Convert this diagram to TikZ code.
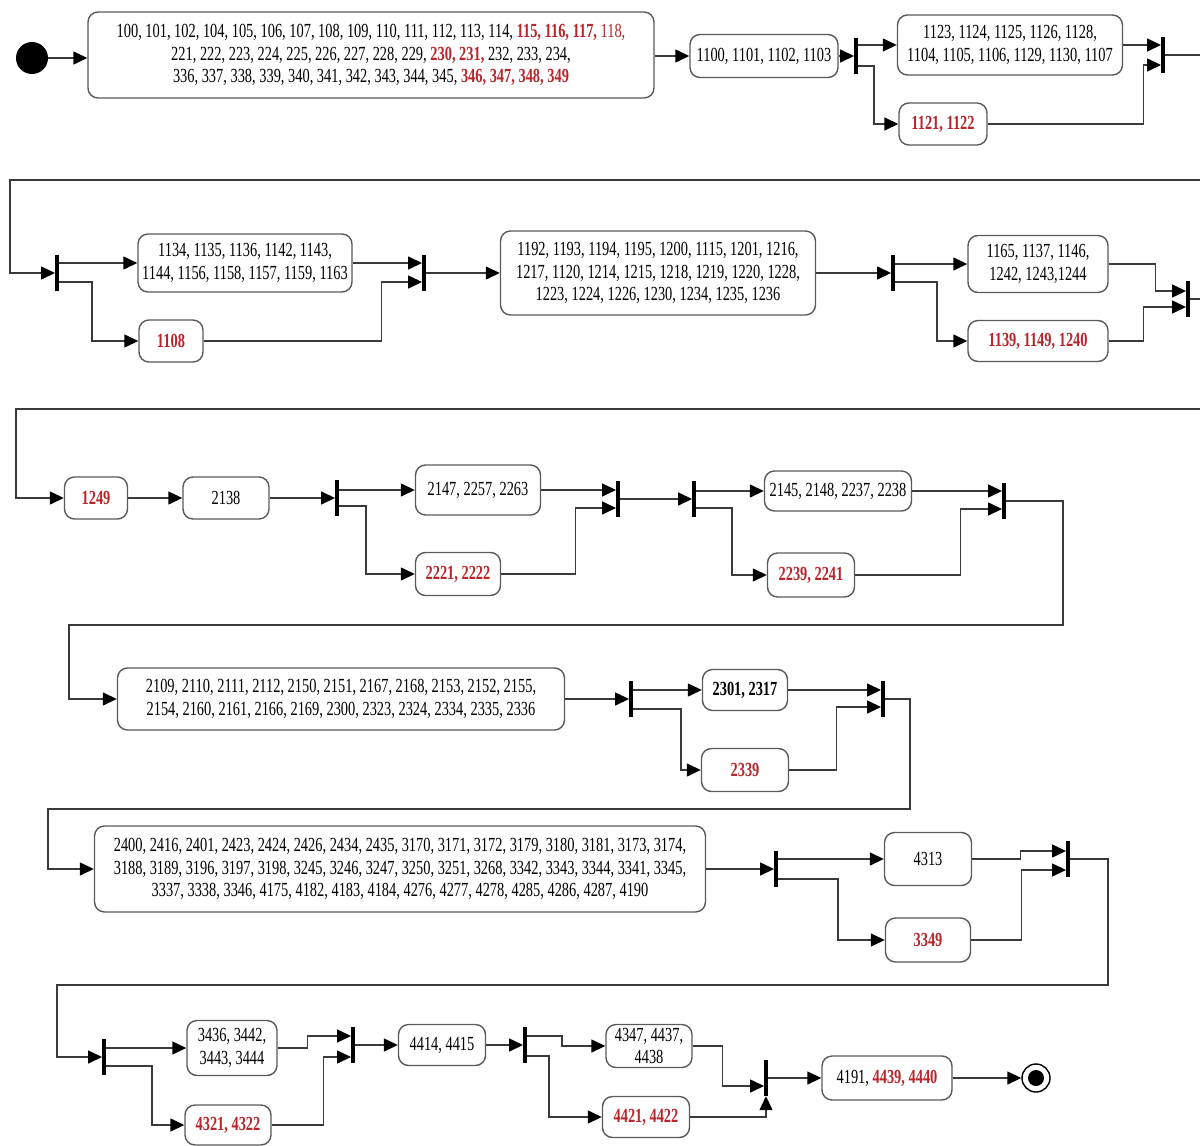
\documentclass[tikz,border=0pt]{standalone}
\usepackage{fontspec}
\setmainfont[FakeStretch=0.72]{Liberation Serif}
\usepackage{tikz}
\usepackage{xcolor}
\usetikzlibrary{arrows.meta,positioning,calc}

\definecolor{redtxt}{HTML}{B8262B}
\definecolor{boxgray}{HTML}{5A5A5A}
\definecolor{linegray}{HTML}{3A3A3A}
\newcommand{\hl}[1]{\textcolor{redtxt}{\textbf{#1}}}

\tikzset{
  box/.style={draw=boxgray, rounded corners=10pt, line width=1.4pt, fill=white, align=center, inner sep=0pt},
  bar/.style={fill=black, inner sep=0pt, minimum width=3.5pt, minimum height=36pt},
  arr/.style={draw=linegray, line width=1.4pt, -{Triangle[length=14pt,width=13pt,color=black]}},
  ln/.style={draw=linegray, line width=1.4pt}
}

\begin{document}
\begin{tikzpicture}[x=1pt, y=-1pt, font=\fontsize{20}{22.5}\selectfont]
    \useasboundingbox (0,0) rectangle (1200,1146);
    % fork and join bars
    \foreach \name/\x/\y in {f1/856/56, j1/1163/55, f2/57/273, j2/424/273, f3/893/273, j3/1188/299,
                            f4/337/498, j4/618/499, f5/694/499, j5/1004/501, f6/631/699, j6/883/699,
                            f7/776/869, j7/1068/859, f8/104/1057, j8/353/1045, f9/525/1045, j9/766/1078}
        \node[bar] (\name) at (\x,\y) {};

    % row 1
    \node[circle, fill=black, minimum size=32pt, inner sep=0pt] (s) at (32,58) {};
    \node[box, minimum width=566pt, minimum height=86pt] (A) at (371,55)
        {100, 101, 102, 104, 105, 106, 107, 108, 109, 110, 111, 112, 113, 114, \hl{115, 116, 117,} \textcolor{redtxt}{118,}\\
         221, 222, 223, 224, 225, 226, 227, 228, 229, \hl{230, 231,} 232, 233, 234,\\
         336, 337, 338, 339, 340, 341, 342, 343, 344, 345, \hl{346, 347, 348, 349}};
    \node[box, minimum width=148pt, minimum height=43pt] (B) at (764,56) {1100, 1101, 1102, 1103};
    \node[box, minimum width=225pt, minimum height=60pt] (C) at (1010,45)
        {1123, 1124, 1125, 1126, 1128,\\ 1104, 1105, 1106, 1129, 1130, 1107};
    \node[box, minimum width=88pt, minimum height=42pt] (D) at (943,124) {\hl{1121, 1122}};
    \draw[arr] (s) -- (s -| A.west);
    \draw[arr] (A.east |- B) -- (B);
    \draw[arr] (B) -- (f1);
    \draw[arr] (f1.east |- C) -- (C);
    \draw[arr] ([yshift=-10pt]f1.east) -- ++(16,0) |- (D);
    \draw[arr] (C) -- (C -| j1.west);
    \draw[arr] (D.east) -- ++(156,0) |- ([yshift=-10pt]j1.west);
    \coordinate (e1) at (1200,55);
    \draw[ln] (j1) -- (e1);

    % row 2
    \coordinate (w1) at (1200,180);
    \coordinate (w1a) at (10,180);
    \draw[arr] (w1) -- (w1a) |- (f2);
    \node[box, minimum width=214pt, minimum height=58pt] (E) at (245,263)
        {1134, 1135, 1136, 1142, 1143,\\ 1144, 1156, 1158, 1157, 1159, 1163};
    \node[box, minimum width=64pt, minimum height=42pt] (F) at (171,341) {\hl{1108}};
    \node[box, minimum width=315pt, minimum height=84pt] (G) at (658,273)
        {1192, 1193, 1194, 1195, 1200, 1115, 1201, 1216,\\
         1217, 1120, 1214, 1215, 1218, 1219, 1220, 1228,\\
         1223, 1224, 1226, 1230, 1234, 1235, 1236};
    \node[box, minimum width=140pt, minimum height=57pt] (H) at (1038,264)
        {1165, 1137, 1146,\\ 1242, 1243,1244};
    \node[box, minimum width=140pt, minimum height=41pt] (I) at (1038,341) {\hl{1139, 1149, 1240}};
    \draw[arr] (f2.east |- E) -- (E);
    \draw[arr] ([yshift=-9pt]f2.east) -- ++(33,0) |- (F);
    \draw[arr] (E) -- (E -| j2.west);
    \draw[arr] (F.east) -- ++(178,0) |- ([yshift=-9pt]j2.west);
    \draw[arr] (j2) -- (G);
    \draw[arr] (G) -- (f3);
    \draw[arr] (f3.east |- H) -- (H);
    \draw[arr] ([yshift=-9pt]f3.east) -- ++(42,0) |- (I);
    \draw[arr] (H.east) -- ++(47,0) |- ([yshift=8pt]j3.west);
    \draw[arr] (I.east) -- ++(35,0) |- ([yshift=-8pt]j3.west);
    \coordinate (e3) at (1200,299);
    \draw[ln] (j3) -- (e3);

    % row 3
    \coordinate (w2) at (1200,409);
    \coordinate (w2a) at (16,409);
    \node[box, minimum width=63pt, minimum height=42pt] (J) at (96,498) {\hl{1249}};
    \node[box, minimum width=86pt, minimum height=42pt] (K) at (226,498) {2138};
    \node[box, minimum width=125pt, minimum height=50pt] (L) at (478,490) {2147, 2257, 2263};
    \node[box, minimum width=85pt, minimum height=43pt] (M) at (458,574) {\hl{2221, 2222}};
    \node[box, minimum width=147pt, minimum height=40pt] (N) at (838,491) {2145, 2148, 2237, 2238};
    \node[box, minimum width=87pt, minimum height=44pt] (O) at (811,575) {\hl{2239, 2241}};
    \draw[arr] (w2) -- (w2a) |- (J);
    \draw[arr] (J) -- (K);
    \draw[arr] (K) -- (f4);
    \draw[arr] (f4.east |- L) -- (L);
    \draw[arr] ([yshift=-8pt]f4.east) -- ++(27,0) |- (M);
    \draw[arr] (L) -- (L -| j4.west);
    \draw[arr] (M.east) -- ++(74,0) |- ([yshift=-9pt]j4.west);
    \draw[arr] (j4) -- (f5);
    \draw[arr] (f5.east |- N) -- (N);
    \draw[arr] ([yshift=-9pt]f5.east) -- ++(36,0) |- (O);
    \draw[arr] (N) -- (N -| j5.west);
    \draw[arr] (O.east) -- ++(105,0) |- ([yshift=-8pt]j5.west);

    % row 4
    \coordinate (w3) at (1063,625);
    \coordinate (w3a) at (69,625);
    \node[box, minimum width=447pt, minimum height=62pt] (P) at (341,699)
        {2109, 2110, 2111, 2112, 2150, 2151, 2167, 2168, 2153, 2152, 2155,\\
         2154, 2160, 2161, 2166, 2169, 2300, 2323, 2324, 2334, 2335, 2336};
    \node[box, minimum width=85pt, minimum height=41pt] (Q) at (745,690) {\textbf{2301, 2317}};
    \node[box, minimum width=87pt, minimum height=43pt] (R) at (745,770) {\hl{2339}};
    \draw[arr] (j5) -| (w3) -- (w3a) |- (P);
    \draw[arr] (P) -- (f6);
    \draw[arr] (f6.east |- Q) -- (Q);
    \draw[arr] ([yshift=-10pt]f6.east) -- ++(48,0) |- (R);
    \draw[arr] (Q) -- (Q -| j6.west);
    \draw[arr] (R.east) -- ++(47,0) |- ([yshift=-8pt]j6.west);

    % row 5
    \coordinate (w4) at (910,809);
    \coordinate (w4a) at (48,809);
    \node[box, minimum width=611pt, minimum height=86pt] (S) at (400,869)
        {2400, 2416, 2401, 2423, 2424, 2426, 2434, 2435, 3170, 3171, 3172, 3179, 3180, 3181, 3173, 3174,\\
         3188, 3189, 3196, 3197, 3198, 3245, 3246, 3247, 3250, 3251, 3268, 3342, 3343, 3344, 3341, 3345,\\
         3337, 3338, 3346, 4175, 4182, 4183, 4184, 4276, 4277, 4278, 4285, 4286, 4287, 4190};
    \node[box, minimum width=87pt, minimum height=53pt] (T) at (928,859) {4313};
    \node[box, minimum width=85pt, minimum height=44pt] (U) at (928,940) {\hl{3349}};
    \draw[arr] (j6) -| (w4) -- (w4a) |- (S);
    \draw[arr] (S) -- (f7);
    \draw[arr] (f7.east |- T) -- (T);
    \draw[arr] ([yshift=-10pt]f7.east) -- ++(60,0) |- (U);
    \draw[arr] (T.east) -- ++(48,0) |- ([yshift=8pt]j7.west);
    \draw[arr] (U.east) -- ++(50,0) |- ([yshift=-11pt]j7.west);

    % row 6
    \coordinate (w5) at (1108,985);
    \coordinate (w5a) at (57,985);
    \node[box, minimum width=90pt, minimum height=55pt] (V) at (232,1048) {3436, 3442,\\ 3443, 3444};
    \node[box, minimum width=86pt, minimum height=40pt] (W) at (228,1125) {\hl{4321, 4322}};
    \node[box, minimum width=87pt, minimum height=41pt] (X) at (442,1045) {4414, 4415};
    \node[box, minimum width=86pt, minimum height=43pt] (Y) at (649,1046) {4347, 4437,\\ 4438};
    \node[box, minimum width=87pt, minimum height=41pt] (Z) at (646,1117) {\hl{4421, 4422}};
    \node[box, minimum width=130pt, minimum height=44pt] (AA) at (887,1078) {4191, \hl{4439, 4440}};
    \node[circle, draw=black, line width=1.4pt, minimum size=28pt, inner sep=0pt] (t) at (1036,1078) {};
    \fill (t) circle (8pt);
    \draw[arr] (j7) -| (w5) -- (w5a) |- (f8);
    \draw[arr] (f8.east |- V) -- (V);
    \draw[arr] ([yshift=-9pt]f8.east) -- ++(46,0) |- (W);
    \draw[arr] (V.east) -- ++(30,0) |- ([yshift=9pt]j8.west);
    \draw[arr] (W.east) -- ++(52,0) |- ([yshift=-12pt]j8.west);
    \draw[arr] (j8) -- (X);
    \draw[arr] (X) -- (f9);
    \draw[arr] ([yshift=9pt]f9.east) -- ++(35,0) |- (Y);
    \draw[arr] ([yshift=-11pt]f9.east) -- ++(22,0) |- (Z);
    \draw[arr] (Y.east) -- ++(30,0) |- ([yshift=-8pt]j9.west);
    \draw[arr] (Z.east) -| (j9.south);
    \draw[arr] (j9) -- (AA);
    \draw[arr] (AA) -- (t);
\end{tikzpicture}
\end{document}
